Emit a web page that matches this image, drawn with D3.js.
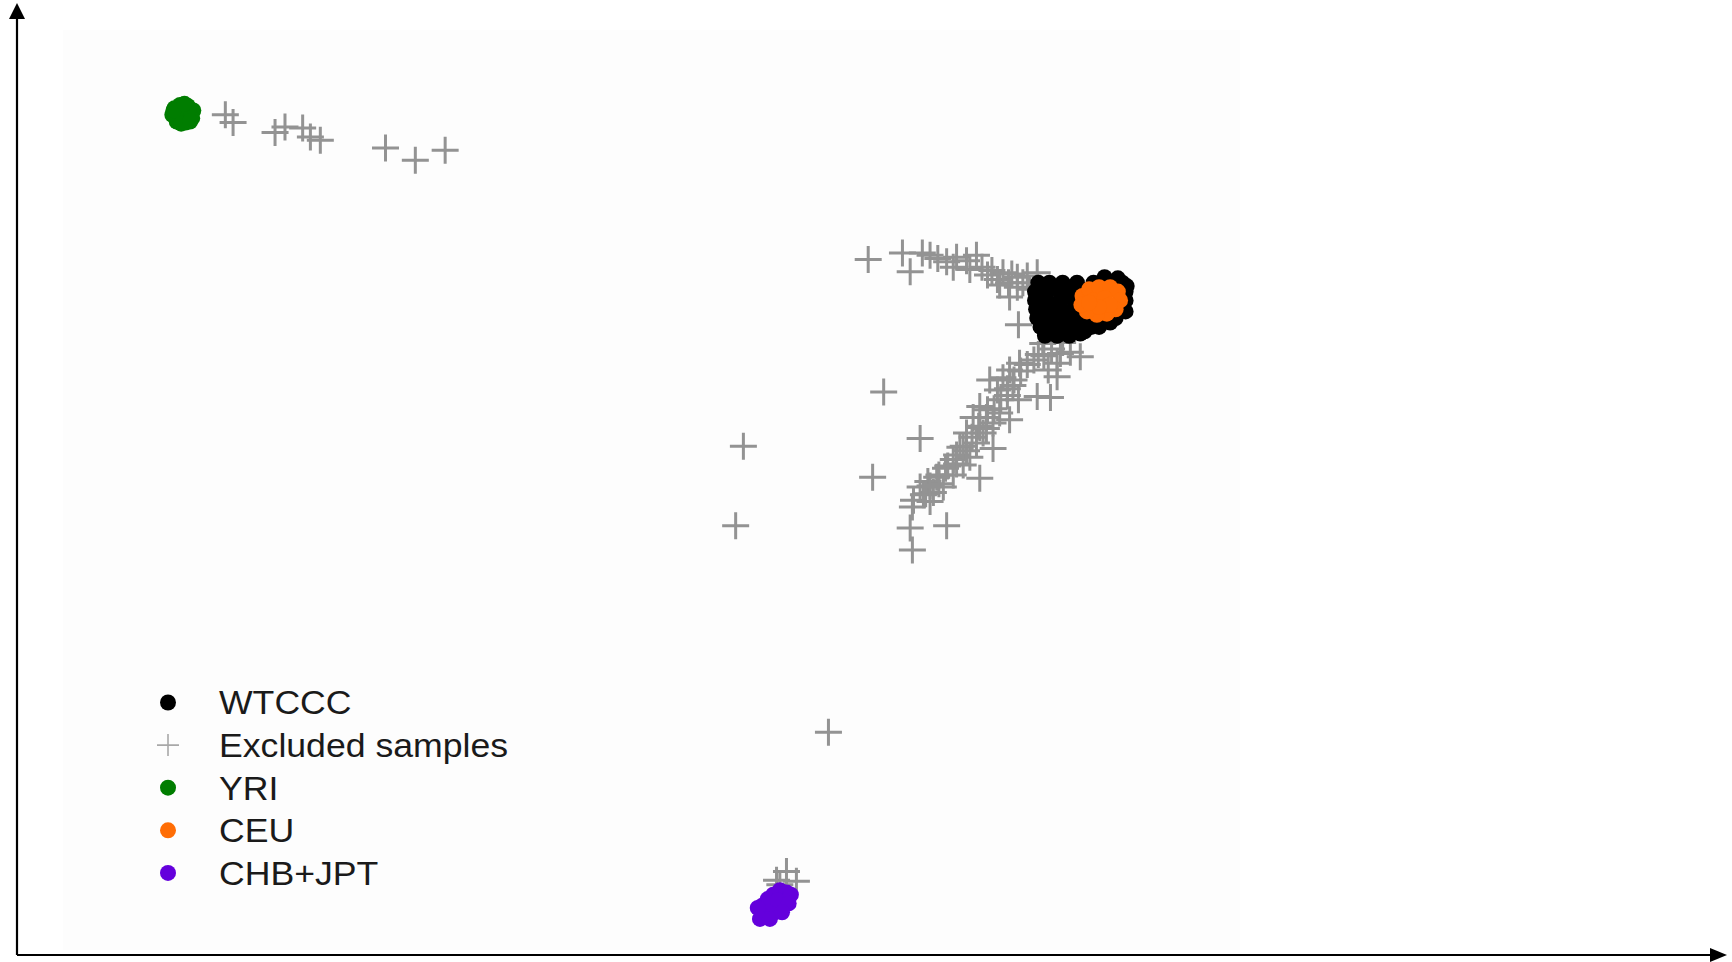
<!DOCTYPE html>
<html>
<head>
<meta charset="utf-8">
<script src="https://cdn.jsdelivr.net/npm/d3@7"></script>
<style>
  html, body { margin: 0; padding: 0; background: #ffffff; }
  svg { display: block; }
</style>
</head>
<body>
<script>
// Principal-component scores (PC1, PC2) of each sample group
const wtccc = [
  [0.140,0.244],[0.150,0.244],[0.162,0.244],[0.175,0.244],[0.190,0.244],[0.205,0.244],[0.216,0.244],
  [0.137,0.236],[0.148,0.236],[0.160,0.236],[0.172,0.236],[0.185,0.236],[0.219,0.236],
  [0.137,0.228],[0.148,0.228],[0.160,0.228],[0.172,0.228],[0.184,0.228],[0.219,0.228],
  [0.138,0.220],[0.149,0.220],[0.160,0.220],[0.172,0.220],[0.184,0.220],[0.216,0.220],
  [0.139,0.212],[0.150,0.212],[0.162,0.212],[0.174,0.212],[0.186,0.212],[0.210,0.212],
  [0.142,0.204],[0.153,0.204],[0.165,0.204],[0.177,0.204],[0.188,0.204],
  [0.146,0.196],[0.157,0.196],[0.168,0.196],
  [0.212,0.248],[0.200,0.249],[0.219,0.218],[0.205,0.208],[0.195,0.204],[0.182,0.200],
  [0.220,0.241],[0.198,0.210],[0.178,0.198]
];

const excluded = [
  [-0.596,0.396],[-0.589,0.389],[-0.551,0.380],[-0.542,0.385],[-0.526,0.384],
  [-0.519,0.376],[-0.510,0.373],[-0.451,0.366],[-0.424,0.355],[-0.397,0.364],
  [-0.014,0.265],[0.017,0.271],[0.024,0.254],[0.035,0.271],[0.042,0.269],
  [0.049,0.266],[0.057,0.263],[0.066,0.267],[0.063,0.258],[0.084,0.269],
  [0.078,0.256],[0.089,0.258],[0.094,0.251],[0.103,0.247],[0.108,0.253],
  [0.113,0.244],[0.121,0.249],[0.121,0.240],[0.126,0.244],[0.139,0.253],
  [0.114,0.231],[0.122,0.206],
  [0.098,0.255],[0.105,0.242],[0.116,0.252],[0.130,0.250],[0.132,0.238],[0.075,0.264],
  [0.144,0.189],[0.140,0.179],[0.160,0.180],[0.169,0.181],[0.178,0.177],
  [0.157,0.171],[0.149,0.165],[0.157,0.159],[0.123,0.171],[0.114,0.165],
  [0.108,0.158],[0.096,0.156],[0.117,0.151],[0.103,0.147],[0.112,0.142],
  [0.139,0.141],[0.151,0.140],[0.122,0.138],[0.094,0.129],[0.081,0.122],
  [0.105,0.126],[0.114,0.120],[0.087,0.113],[0.075,0.108],[0.033,0.103],
  [0.099,0.094],[0.087,0.067],[0.057,0.024],[0.024,0.022],[0.026,0.002],
  [0.042,0.046],[0.026,0.041],[0.087,0.132],[0.069,0.095],[0.063,0.084],
  [0.056,0.076],[0.048,0.068],[0.040,0.064],[0.033,0.059],[0.027,0.047],
  [0.099,0.117],[0.090,0.108],[0.084,0.099],[0.078,0.086],[0.072,0.079],
  [0.063,0.070],[0.054,0.059],[0.045,0.054],[0.050,0.062],[0.066,0.080],
  [0.075,0.092],[0.093,0.112],[0.038,0.053],
  [0.036,0.052],[0.042,0.060],[0.050,0.070],[0.058,0.078],[0.066,0.088],
  [0.072,0.096],[0.080,0.104],[0.086,0.114],[0.093,0.122],[0.100,0.130],
  [0.106,0.138],[0.112,0.148],[0.118,0.156],[0.124,0.164],[0.130,0.170],
  [0.136,0.174],[0.145,0.178],[0.152,0.184],[0.162,0.190],
  [0.000,0.145],[-0.127,0.096],[-0.134,0.024],[-0.010,0.068],[-0.050,-0.163],
  [-0.088,-0.289],[-0.097,-0.297],[-0.079,-0.298],[-0.094,-0.301]
];

const yri = [
  [-0.642,0.402],[-0.637,0.405],[-0.630,0.404],[-0.625,0.400],[-0.626,0.393],
  [-0.632,0.389],[-0.640,0.390],[-0.644,0.396],[-0.635,0.397],[-0.638,0.400],
  [-0.631,0.397],[-0.634,0.392],[-0.629,0.401],[-0.641,0.395],[-0.636,0.388],
  [-0.628,0.390],[-0.643,0.400],[-0.633,0.406]
];

const ceu = [
  [0.180,0.232],[0.186,0.238],[0.195,0.240],[0.205,0.240],[0.212,0.236],
  [0.214,0.228],[0.210,0.220],[0.202,0.216],[0.193,0.215],[0.184,0.218],
  [0.179,0.224],[0.190,0.228],[0.200,0.230],[0.205,0.224],[0.195,0.222],
  [0.186,0.226]
];

const chbJpt = [
  [-0.108,-0.328],[-0.110,-0.320],[-0.105,-0.314],[-0.100,-0.310],[-0.094,-0.306],
  [-0.088,-0.308],[-0.088,-0.314],[-0.093,-0.320],[-0.099,-0.326],[-0.104,-0.329],
  [-0.101,-0.318],[-0.096,-0.315],
  [-0.114,-0.322],[-0.112,-0.332],[-0.084,-0.310],[-0.086,-0.318],[-0.103,-0.332],[-0.092,-0.326]
];

const legendLabels = ["WTCCC", "Excluded samples", "YRI", "CEU", "CHB+JPT"];

const W = 1732, H = 962;
const svg = d3.select("body").append("svg").attr("width", W).attr("height", H);

const x = d3.scaleLinear().domain([-0.8, 0.768]).range([0, W]);
const y = d3.scaleLinear().domain([0.5, -0.371]).range([0, H]);

// faint panel behind the scatter
svg.append("rect")
  .attr("x", 63).attr("y", 30).attr("width", 1177).attr("height", 920)
  .attr("fill", "#fdfdfd");

const R = 8;      // dot radius
const C = 13.5;   // half-length of a cross arm

function crosses(g, data, half, color, width) {
  g.selectAll("path").data(data).join("path")
    .attr("d", d => {
      const cx = x(d[0]), cy = y(d[1]);
      return `M${cx - half},${cy}H${cx + half}M${cx},${cy - half}V${cy + half}`;
    })
    .attr("stroke", color).attr("stroke-width", width).attr("fill", "none");
}
function dots(g, data, color) {
  g.selectAll("circle").data(data).join("circle")
    .attr("cx", d => x(d[0])).attr("cy", d => y(d[1])).attr("r", R)
    .attr("fill", color);
}

crosses(svg.append("g"), excluded, C, "#939393", 3);
dots(svg.append("g"), wtccc, "#000000");
dots(svg.append("g"), ceu, "#ff6d05");
dots(svg.append("g"), yri, "#007d00");
dots(svg.append("g"), chbJpt, "#6400dc");

// axes with arrowheads
const x0 = 17, yb = 955;
svg.append("path")
  .attr("d", `M${x0},${yb}V16M${x0},${yb}H1712`)
  .attr("stroke", "#000").attr("stroke-width", 2.2).attr("fill", "none");
svg.append("path")
  .attr("d", `M${x0},3L${x0 - 8},19L${x0 + 8},19Z`).attr("fill", "#000");
svg.append("path")
  .attr("d", `M1727,${yb}L1710,${yb - 7}L1710,${yb + 7}Z`).attr("fill", "#000");

// legend
const legendColors = ["#000000", null, "#007d00", "#ff6d05", "#6400dc"];
const lg = svg.append("g");
legendLabels.forEach((lab, i) => {
  const ly = 702.5 + i * 42.6;
  if (legendColors[i]) {
    lg.append("circle").attr("cx", 168).attr("cy", ly).attr("r", R).attr("fill", legendColors[i]);
  } else {
    lg.append("path")
      .attr("d", `M${168 - 11},${ly}H${168 + 11}M168,${ly - 11}V${ly + 11}`)
      .attr("stroke", "#a8a8a8").attr("stroke-width", 1.6).attr("fill", "none");
  }
  lg.append("text")
    .attr("transform", `translate(219,${ly}) scale(1.08,1)`)
    .attr("dy", "0.36em")
    .attr("font-family", "'Liberation Sans', Arial, sans-serif")
    .attr("font-size", 33)
    .attr("fill", "#1a1a1a")
    .text(lab);
});
</script>
</body>
</html>
